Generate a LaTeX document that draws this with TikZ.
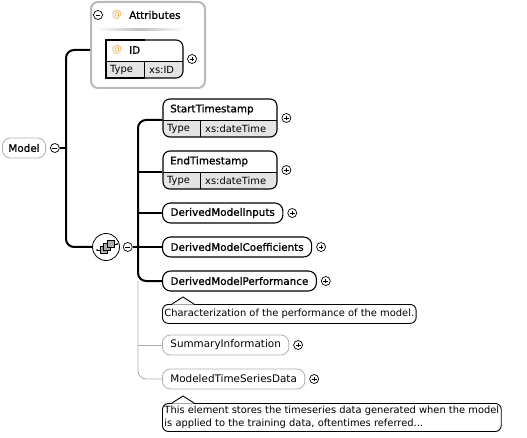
\documentclass[tikz,border=0pt]{standalone}
\usepackage{fontspec}
\setmainfont{DejaVu Sans}
\newfontfamily\namefamily[FakeBold=1.1]{DejaVu Sans}
\usetikzlibrary{positioning}
\definecolor{attrorange}{RGB}{238,160,60}
\definecolor{cellgray}{RGB}{228,228,228}
\definecolor{optgray}{RGB}{175,175,175}
\definecolor{framegray}{RGB}{185,185,185}
\newcommand\xsdfont{\fontsize{9.9}{12.5}\selectfont}
\newcommand\xsdname{\namefamily\fontsize{10.4}{12.5}\selectfont}

\tikzset{
  elem/.style={draw, rounded corners=8pt, line width=1.1pt, font=\xsdname, inner xsep=8pt, inner ysep=0pt, minimum height=20pt, anchor=west},
  optelem/.style={elem, draw=optgray, line width=0.8pt, font=\xsdfont\fontsize{10.4}{12.5}\selectfont},
  celltext/.style={font=\xsdfont, anchor=west, inner sep=0pt},
  note/.style={draw, rounded corners=6pt, line width=0.9pt, font=\xsdfont, align=left, inner xsep=2pt, inner ysep=3pt, anchor=north west},
  pmcirc/.style={circle, draw, line width=0.7pt, minimum size=9pt, inner sep=0pt},
  plusc/.style={pmcirc, path picture={
      \draw[line width=0.7pt] ([xshift=-2.4pt]path picture bounding box.center) -- ([xshift=2.4pt]path picture bounding box.center)
        ([yshift=-2.4pt]path picture bounding box.center) -- ([yshift=2.4pt]path picture bounding box.center);}},
  minusc/.style={pmcirc, path picture={
      \draw[line width=0.7pt] ([xshift=-2.4pt]path picture bounding box.center) -- ([xshift=2.4pt]path picture bounding box.center);}},
  conn/.style={line width=2pt, rounded corners=8pt},
  optconn/.style={line width=0.9pt, draw=optgray, rounded corners=8pt},
  tbox/.style={draw, rounded corners=7pt, line width=1.1pt, minimum width=114pt, minimum height=38pt, inner sep=0pt},
}

\begin{document}
\begin{tikzpicture}[x=1pt, y=-1pt]
\useasboundingbox (0,0) rectangle (527,438);

% Root element
\node[optelem, font=\xsdname, inner xsep=6pt] (model) at (2,148) {Model};
\node[minusc, right=4pt of model] (modelminus) {};
\coordinate (mtrunk) at (66,148);

% Attributes
\node[draw=framegray, line width=2pt, rounded corners=7pt, minimum width=114pt, minimum height=86pt] (attrs) at (148,45) {};
\node[minusc] (attrminus) at (98,15) {};
\node[celltext, text=attrorange] (attrat) at (112,15) {@};
\node[celltext, font=\xsdname] (attrlabel) at (129,15) {Attributes};
\shade[left color=white, right color=white, middle color=gray!50] (95,28.5) rectangle (185,30.5);

% ID attribute
\node[minimum width=77pt, minimum height=38pt, inner sep=0pt] (idbox) at (144.5,59) {};
\begin{scope}
  \clip[rounded corners=7pt] (idbox.north west) rectangle (idbox.south east);
  \fill[cellgray] (106,61) rectangle (183,78);
\end{scope}
\fill[cellgray] (106,61) rectangle (130,78);
\draw[line width=1.1pt] (145,40) -- (106,40) -- (106,78) -- (145,78);
\draw[line width=1.1pt, rounded corners=7pt] (145,40) -- (183,40) -- (183,78) -- (145,78);
\draw[line width=0.8pt] (106,61) -- (183,61) (144,61) -- (144,78);
\node[celltext, text=attrorange] (idat) at (112,50) {@};
\node[celltext, font=\xsdname] (idname) at (129,50) {ID};
\node[celltext] (idtype) at (110,70) {Type};
\node[celltext] (idval) at (149,70) {xs:ID};
\node[plusc, right=4pt of idbox] (idplus) {};

% Sequence
\node[circle, draw, line width=0.8pt, minimum size=27pt, inner sep=0pt] (seq) at (106,247) {};
\begin{scope}[shift={(seq.center)}]
  \draw[line width=0.7pt] (-9,3) -- (-5,3) (7,-3) -- (11,-3);
  \fill (-9,3) circle (1pt) (11,-3) circle (1pt);
  \foreach \k in {0,1,2}
    \draw[fill=gray!65, line width=0.6pt] (-5.5+3.2*\k,-0.2-3.2*\k) rectangle ++(7,7);
\end{scope}
\node[minusc, right=3pt of seq] (seqminus) {};
\coordinate (strunk) at (138,247);

% StartTimestamp
\begin{scope}
  \clip[rounded corners=7pt] (163,99) rectangle (277,137);
  \fill[cellgray] (163,120) rectangle (277,137);
\end{scope}
\node[tbox] (stbox) at (220,118) {};
\draw[line width=0.8pt] (163,120) -- (277,120) (200,120) -- (200,137);
\node[celltext, font=\xsdname] (stname) at (170,109.5) {StartTimestamp};
\node[celltext] (sttype) at (167,128.5) {Type};
\node[celltext] (stval) at (205,128.5) {xs:dateTime};
\node[plusc, right=4pt of stbox] (stplus) {};

% EndTimestamp
\begin{scope}
  \clip[rounded corners=7pt] (163,151) rectangle (277,189);
  \fill[cellgray] (163,172) rectangle (277,189);
\end{scope}
\node[tbox] (etbox) at (220,170) {};
\draw[line width=0.8pt] (163,172) -- (277,172) (200,172) -- (200,189);
\node[celltext, font=\xsdname] (etname) at (170,161.5) {EndTimestamp};
\node[celltext] (ettype) at (167,180.5) {Type};
\node[celltext] (etval) at (205,180.5) {xs:dateTime};
\node[plusc, right=4pt of etbox] (etplus) {};

% Derived model elements
\node[elem] (dmi) at (162,213) {DerivedModelInputs};
\node[plusc, right=4pt of dmi] (dmiplus) {};
\node[elem] (dmc) at (162,247) {DerivedModelCoefficients};
\node[plusc, right=4pt of dmc] (dmcplus) {};
\node[elem] (dmp) at (162,281) {DerivedModelPerformance};
\node[plusc, right=4pt of dmp] (dmpplus) {};

\node[note, minimum height=19pt] (perfnote) at (162,304) {Characterization of the performance of the model.};
\fill[white] ([xshift=10pt, yshift=-0.6pt]perfnote.north west) -- ++(11,-7.6) -- ++(11,7.6) -- cycle;
\draw[line width=0.9pt] ([xshift=10pt]perfnote.north west) -- ++(11,-7) -- ++(11,7);

% Optional elements
\node[optelem] (si) at (162,345) {SummaryInformation};
\node[plusc, right=4pt of si] (siplus) {};
\node[optelem] (mtsd) at (162,379) {ModeledTimeSeriesData};
\node[plusc, right=4pt of mtsd] (mtsdplus) {};

\node[note] (mtsdnote) at (162,403) {This element stores the timeseries data generated when the model\\is applied to the training data, oftentimes referred...};
\fill[white] ([xshift=10pt, yshift=-0.6pt]mtsdnote.north west) -- ++(11,-7.6) -- ++(11,7.6) -- cycle;
\draw[line width=0.9pt] ([xshift=10pt]mtsdnote.north west) -- ++(11,-7) -- ++(11,7);

% Connectors
\draw[conn] (modelminus.east) -- (mtrunk);
\draw[conn] ([yshift=-5pt]attrs.west) -| (mtrunk) |- (seq.west);
\draw[conn] (seqminus.east) -- (strunk);
\draw[conn] ([yshift=-2pt]stbox.west) -| (strunk) |- (dmp.west);
\draw[conn] ([yshift=-2pt]etbox.west) -- ([yshift=-2pt]etbox.west -| strunk);
\draw[conn] (dmi.west) -- (dmi.west -| strunk);
\draw[conn] (dmc.west) -- (dmc.west -| strunk);
\draw[optconn] (dmp.west -| strunk) |- (mtsd.west);
\draw[optconn] (si.west) -- (si.west -| strunk);
\end{tikzpicture}
\end{document}
